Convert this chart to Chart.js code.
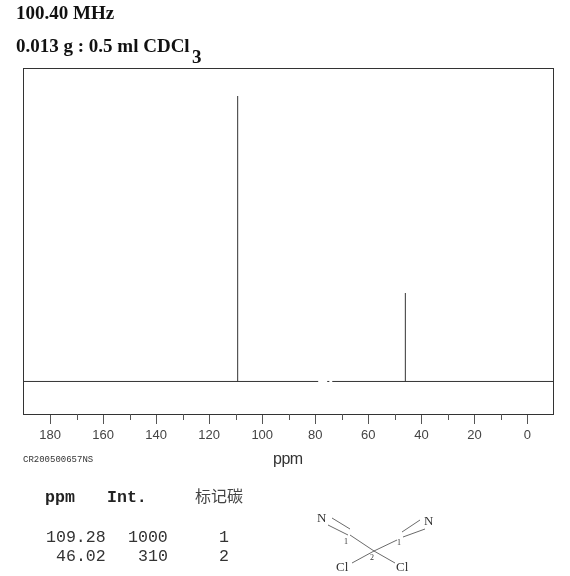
<!DOCTYPE html>
<html><head><meta charset="utf-8">
<script src="https://cdn.jsdelivr.net/npm/chart.js@4"></script>
<style>
html,body{margin:0;padding:0;background:#fff;width:570px;height:576px;overflow:hidden}
#c{position:absolute;left:0;top:0}
.t{position:absolute;white-space:pre;line-height:1;color:#111}
.ti{font:bold 19px "Liberation Serif",serif}
.mo{font:16.6px "Liberation Mono",monospace;color:#333}
svg{position:absolute;left:0;top:0}
</style></head><body>
<canvas id="c" width="570" height="576"></canvas>
<div class="t ti" style="left:16px;top:2px">100.40 MHz</div>
<div class="t ti" style="left:16px;top:35px">0.013 g : 0.5 ml CDCl</div>
<div class="t ti" style="left:192px;top:46px">3</div>
<div class="t" style="left:23px;top:455px;font:9px 'Liberation Mono',monospace;color:#333">CR200500657NS</div>
<div class="t mo" style="left:45px;top:488px;font-weight:bold;color:#222">ppm</div>
<div class="t mo" style="left:107px;top:488px;font-weight:bold;color:#222">Int.</div>
<div class="t" style="left:195px;top:487px;font:16px 'Noto Sans CJK SC',sans-serif;line-height:1;color:#444">标记碳</div>
<div class="t mo" style="left:46px;top:528px">109.28</div>
<div class="t mo" style="left:128px;top:528px">1000</div>
<div class="t mo" style="left:219px;top:528px">1</div>
<div class="t mo" style="left:56px;top:547px">46.02</div>
<div class="t mo" style="left:138px;top:547px">310</div>
<div class="t mo" style="left:219px;top:547px">2</div>
<svg width="570" height="576" font-family="Liberation Serif" fill="#333">
<g stroke="#444" stroke-width="0.8" fill="none">
<path d="M332 518L350 529M328 525L348 535M350 535L374 551L397 540M402 532L420 520M403 537L425 529M374 551L352 563M374 551L395 563"/>
</g>
<text x="317" y="522" font-size="13">N</text>
<text x="424" y="525" font-size="13">N</text>
<text x="336" y="571" font-size="13">Cl</text>
<text x="396" y="571" font-size="13">Cl</text>
<text x="344" y="544" font-size="8">1</text>
<text x="397" y="545" font-size="8">1</text>
<text x="370" y="560" font-size="8">2</text>
</svg>
<script>
const peakPpm = [109.28, 46.02];
const peakInt = [1000, 310];
const baselineFrom = [190, 75.5, 73.6];
const baselineTo = [78.9, 74.7, -10];
const majorTicks = [180, 160, 140, 120, 100, 80, 60, 40, 20, 0];
const minorTicks = [170, 150, 130, 110, 90, 70, 50, 30, 10];
const axisLeft = 190, axisRight = -10;
const yMin = -114, yMax = 1098;

const peakPoints = [];
peakPpm.forEach((p, i) => { peakPoints.push({x:p,y:0},{x:p,y:peakInt[i]},{x:p,y:null}); });
const basePoints = [];
baselineFrom.forEach((b, i) => { basePoints.push({x:b,y:0},{x:baselineTo[i],y:0},{x:baselineTo[i],y:null}); });

const frame = {
  id:'frame',
  afterDraw(ch){
    const a = ch.chartArea, c = ch.ctx, sx = ch.scales.x;
    c.save();
    c.strokeStyle = '#333'; c.lineWidth = 1;
    c.strokeRect(23.5, Math.round(a.top)+.5, 530, Math.round(a.bottom-a.top));
    c.strokeStyle = '#555';
    minorTicks.forEach(v => {
      const px = Math.round(sx.getPixelForValue(v)) + .5;
      c.beginPath(); c.moveTo(px, a.bottom); c.lineTo(px, a.bottom + 6); c.stroke();
    });
    c.restore();
  }
};
new Chart(document.getElementById('c'), {
  type:'line',
  data:{datasets:[
    {data:basePoints, borderColor:'#333', borderWidth:1, pointRadius:0, spanGaps:false, tension:0},
    {data:peakPoints, borderColor:'#555', borderWidth:1.2, pointRadius:0, spanGaps:false, tension:0}
  ]},
  options:{
    responsive:false, animation:false,
    layout:{padding:{left:23.5,right:16,top:68,bottom:108}},
    plugins:{legend:{display:false},tooltip:{enabled:false}},
    scales:{
      x:{type:'linear',reverse:true,min:axisRight,max:axisLeft,
        border:{display:false},
        grid:{display:true,drawOnChartArea:false,drawTicks:true,tickLength:10,color:'#555'},
        afterBuildTicks(s){ s.ticks = majorTicks.map(v => ({value:v})); },
        ticks:{includeBounds:false,maxRotation:0,autoSkip:false,padding:4,color:'#444',
          font:{family:'Liberation Sans',size:13}},
        afterFit(s){s.height=54;},
        title:{display:false}
      },
      y:{display:false,min:yMin,max:yMax}
    }
  },
  plugins:[frame]
});
</script>
<div class="t" style="left:273px;top:451px;font:16px 'Liberation Sans',sans-serif;line-height:1;color:#333;letter-spacing:-0.5px">ppm</div>
</body></html>
